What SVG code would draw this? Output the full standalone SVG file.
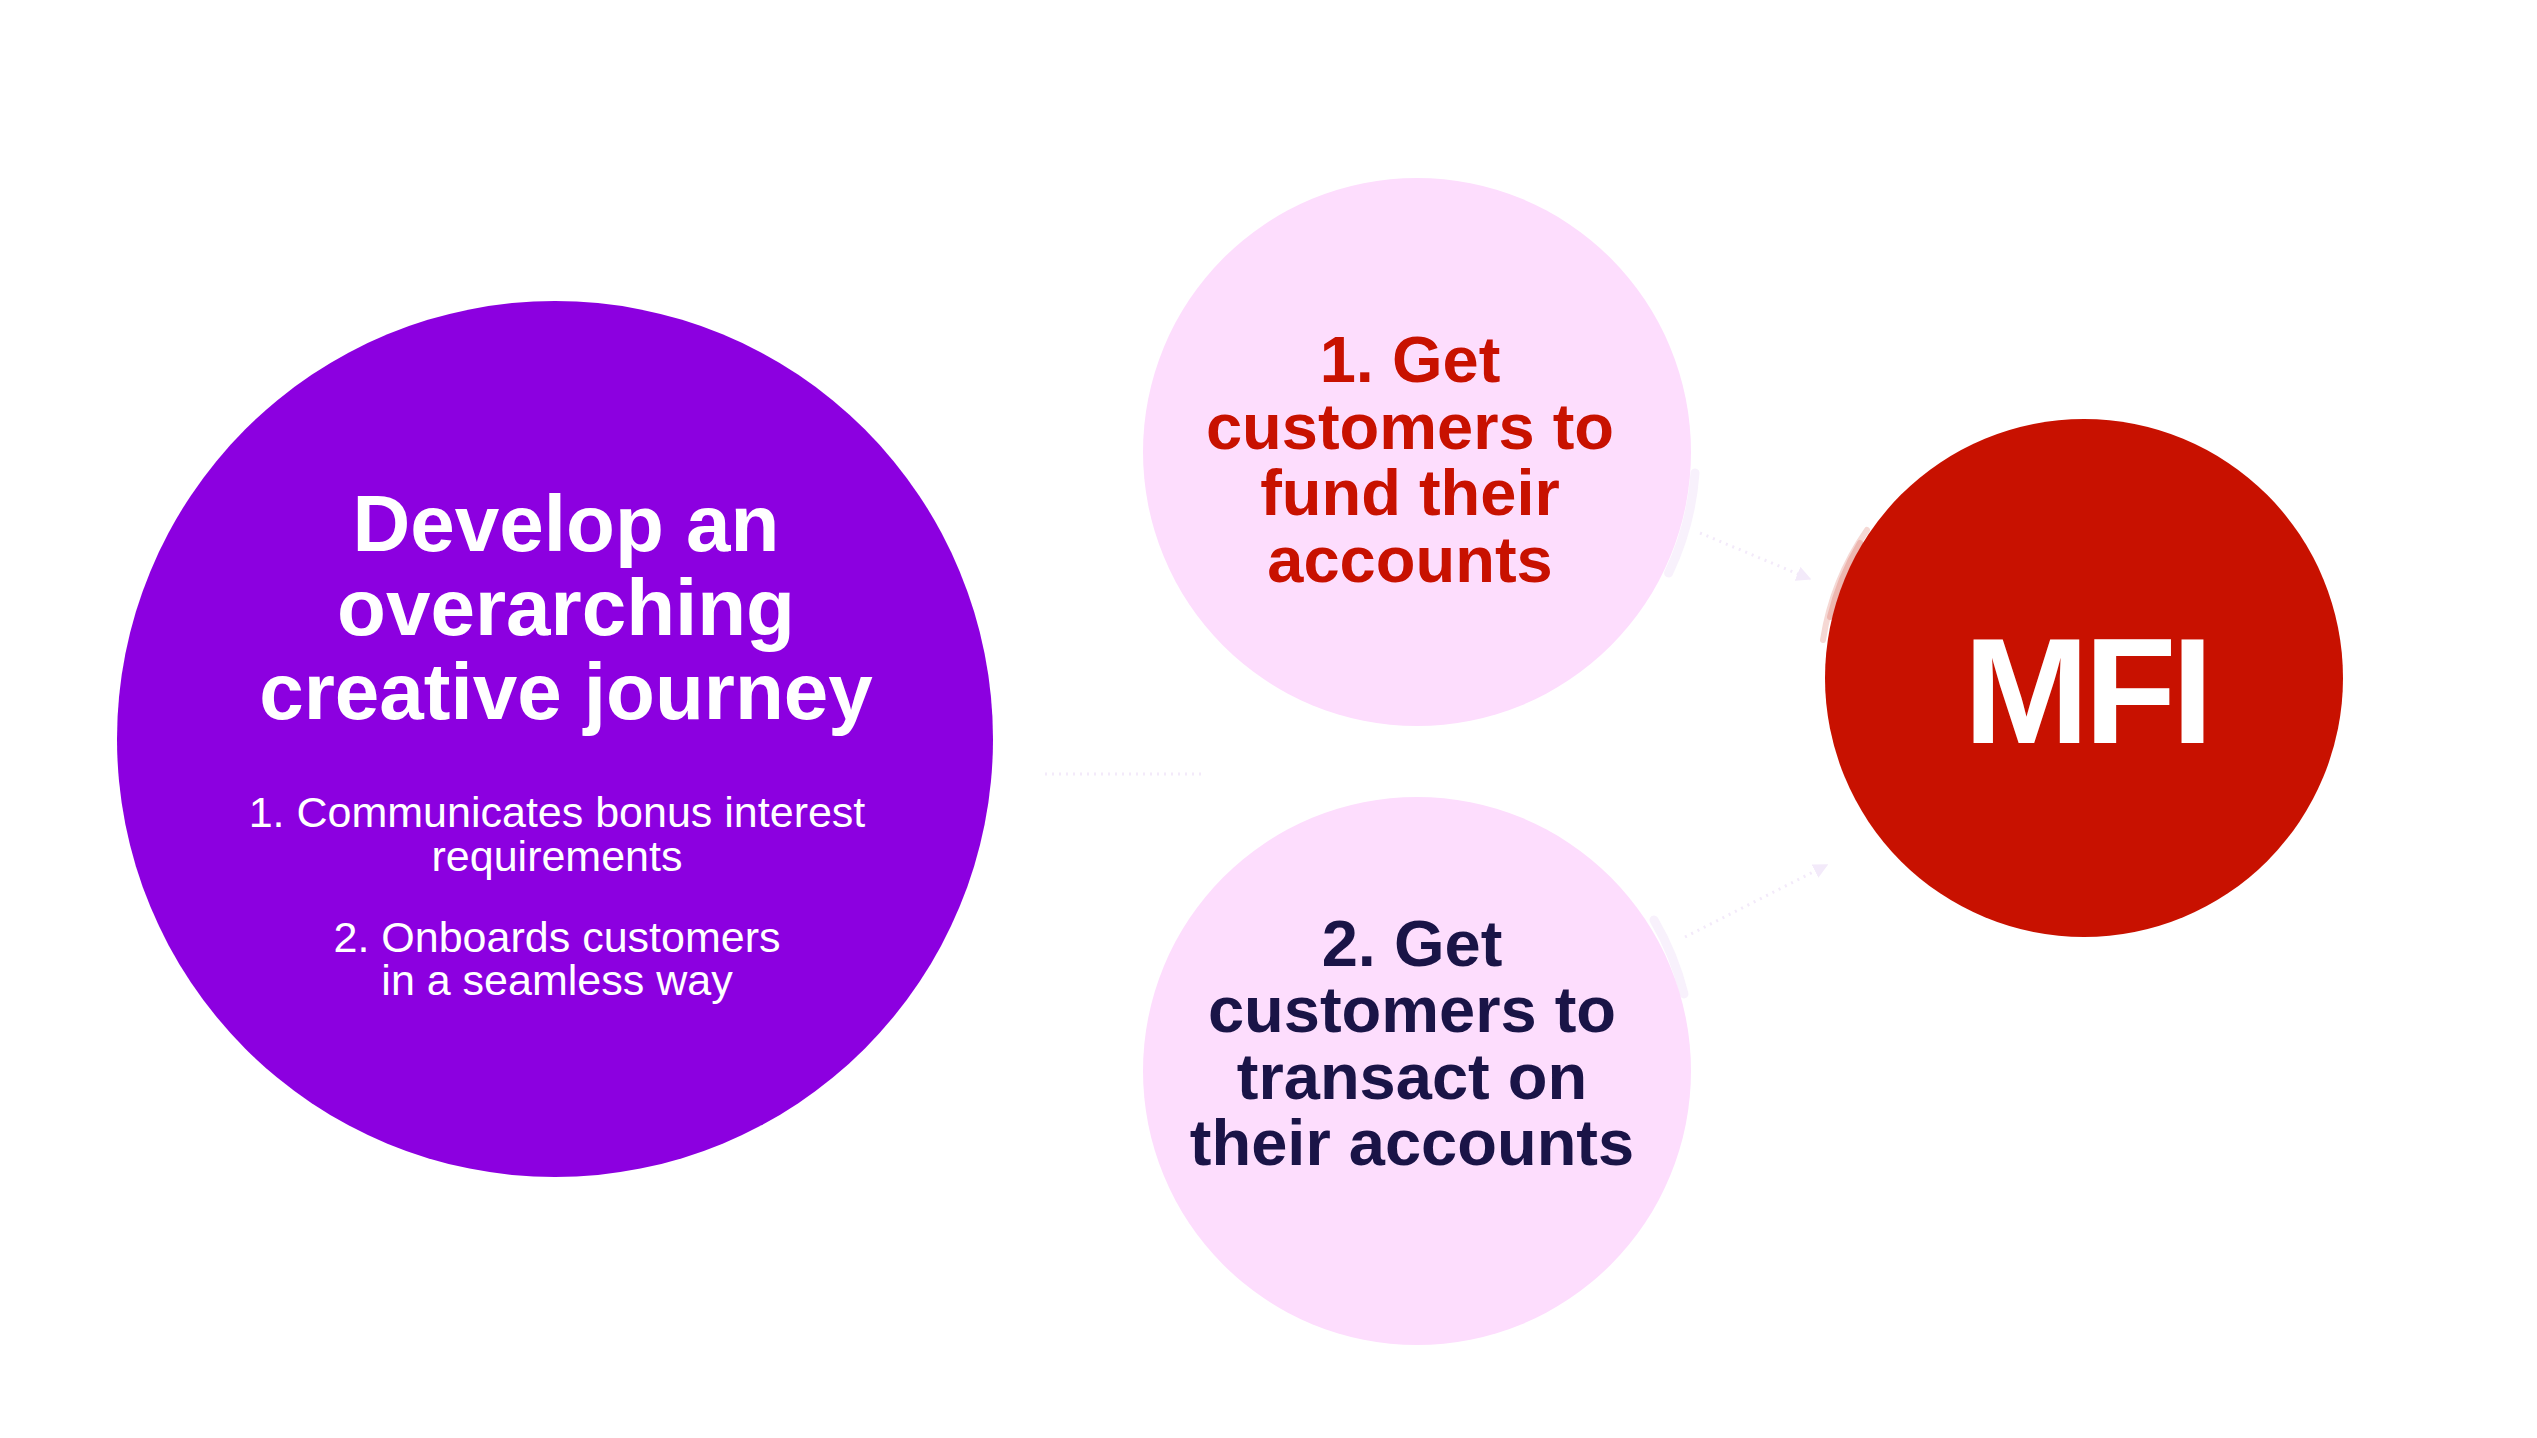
<svg xmlns="http://www.w3.org/2000/svg" width="2537" height="1438" viewBox="0 0 2537 1438">
  <defs>
    <style>
      .t { font-family: "Liberation Sans", Arial, Helvetica, sans-serif; text-anchor: middle; }
      .title { font-size: 80px; font-weight: bold; fill: #ffffff; }
      .sub { font-size: 43px; fill: #ffffff; }
      .goal { font-size: 65px; font-weight: bold; }
      .conn { stroke: #F3EAFA; stroke-width: 3; fill: none; stroke-dasharray: 2 5; }
      .halo { fill: none; stroke-linecap: round; }
    </style>
    <marker id="arrow" viewBox="0 0 10 10" refX="9" refY="5" markerWidth="5" markerHeight="5" orient="auto">
      <path d="M0,0 L10,5 L0,10 z" fill="#F3EAFA"/>
    </marker>
  </defs>
  <rect width="2537" height="1438" fill="#ffffff"/>

  <g id="connectors">
    <line class="conn" x1="1045" y1="774" x2="1205" y2="774"/>
    <line class="conn" x1="1700" y1="533" x2="1810" y2="579" marker-end="url(#arrow)"/>
    <line class="conn" x1="1685" y1="937" x2="1827" y2="865" marker-end="url(#arrow)"/>
  </g>

  <g id="node-journey">
    <circle cx="555" cy="739" r="438" fill="#8C00E0"/>
    <text class="t title" x="566" y="551">Develop an</text>
    <text class="t title" x="566" y="635">overarching</text>
    <text class="t title" x="566" y="719">creative journey</text>
    <text class="t sub" x="557" y="827">1. Communicates bonus interest</text>
    <text class="t sub" x="557" y="871">requirements</text>
    <text class="t sub" x="557" y="952">2. Onboards customers</text>
    <text class="t sub" x="557" y="995">in a seamless way</text>
  </g>

  <g id="node-fund">
    <path class="halo" d="M1695,473 A279,279 0 0 1 1668.6,573" stroke="#F8F1FC" stroke-width="9"/>
    <circle cx="1417" cy="452" r="274" fill="#FDDDFD"/>
    <text class="t goal" x="1410" y="382" fill="#C81100">1. Get</text>
    <text class="t goal" x="1410" y="449" fill="#C81100">customers to</text>
    <text class="t goal" x="1410" y="515" fill="#C81100">fund their</text>
    <text class="t goal" x="1410" y="582" fill="#C81100">accounts</text>
  </g>

  <g id="node-transact">
    <path class="halo" d="M1654,920 A279,279 0 0 1 1684,994" stroke="#F8F1FC" stroke-width="9"/>
    <circle cx="1417" cy="1071" r="274" fill="#FDDDFD"/>
    <text class="t goal" x="1412" y="966" fill="#1A1447">2. Get</text>
    <text class="t goal" x="1412" y="1032" fill="#1A1447">customers to</text>
    <text class="t goal" x="1412" y="1099" fill="#1A1447">transact on</text>
    <text class="t goal" x="1412" y="1165" fill="#1A1447">their accounts</text>
  </g>

  <g id="node-mfi">
    <path class="halo" d="M1867,530 A263,263 0 0 0 1823,640" stroke="#F5D8D4" stroke-width="6"/>
    <path class="halo" d="M1860,543 A263,263 0 0 0 1830,617" stroke="#EDB7B0" stroke-width="6"/>
    <circle cx="2084" cy="678" r="259" fill="#C81100"/>
    <text class="t" x="2086" y="743" font-size="151" font-weight="bold" fill="#ffffff" letter-spacing="-5">MFI</text>
  </g>
</svg>
